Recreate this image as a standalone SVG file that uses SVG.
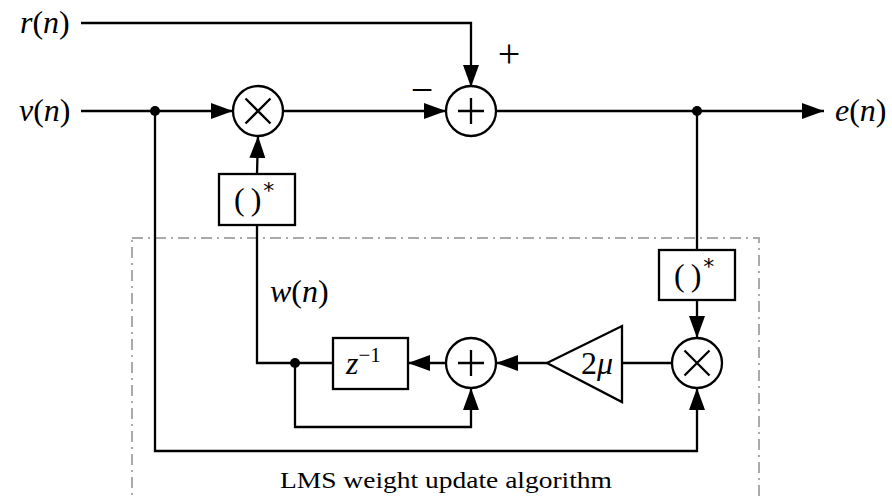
<svg xmlns="http://www.w3.org/2000/svg" width="892" height="500" viewBox="0 0 892 500">
  <defs>
    <marker id="arrow" viewBox="0 0 22 16" refX="22" refY="8" markerWidth="22" markerHeight="16" markerUnits="userSpaceOnUse" orient="auto">
      <path d="M0,0 L22,8 L0,16 Z" fill="#000"/>
    </marker>
    <style>
      .wire { fill: none; stroke: #000; stroke-width: 2.3; }
      .arr { marker-end: url(#arrow); }
      .node { fill: #fff; stroke: #000; stroke-width: 2.3; }
      .sym { stroke: #000; stroke-width: 2.3; fill: none; }
      .dot { fill: #000; }
      .math { font-family: "Liberation Serif", "DejaVu Serif", serif; font-size: 32px; fill: #000; }
      .it { font-style: italic; }
      .sign { font-family: "Liberation Serif", "DejaVu Serif", serif; font-size: 40px; fill: #000; }
      .star { font-family: "DejaVu Sans", sans-serif; font-size: 22px; }
      .cap { font-family: "Liberation Serif", "DejaVu Serif", serif; font-size: 23px; fill: #000; }
      .frame { fill: none; stroke: #aaaaaa; stroke-width: 2; stroke-dasharray: 11 5 2 5; }
    </style>
  </defs>

  <!-- update-algorithm frame -->
  <rect class="frame" x="132" y="238" width="627" height="280"/>
  <text class="cap" x="280" y="488" textLength="332" lengthAdjust="spacingAndGlyphs">LMS weight update algorithm</text>

  <!-- signal labels -->
  <text class="math" x="20" y="33"><tspan class="it">r</tspan>(<tspan class="it">n</tspan>)</text>
  <text class="math" x="19" y="121"><tspan class="it">v</tspan>(<tspan class="it">n</tspan>)</text>
  <text class="math" x="835" y="121"><tspan class="it">e</tspan>(<tspan class="it">n</tspan>)</text>
  <text class="math" x="270" y="302"><tspan class="it">w</tspan>(<tspan class="it">n</tspan>)</text>
  <text class="sign" x="422" y="103" text-anchor="middle">−</text>
  <text class="sign" x="509" y="67" text-anchor="middle">+</text>

  <g id="connectors">
    <polyline class="wire arr" points="81,23 471,23 471,87"/>
    <line class="wire arr" x1="81" y1="111" x2="233" y2="111"/>
    <line class="wire arr" x1="283" y1="111" x2="446" y2="111"/>
    <line class="wire arr" x1="496" y1="111" x2="824" y2="111"/>
    <line class="wire arr" x1="257" y1="174" x2="258" y2="136"/>
    <polyline class="wire" points="257,225 257,363 333,363"/>
    <line class="wire" x1="697" y1="111" x2="697" y2="250"/>
    <line class="wire arr" x1="697" y1="300" x2="697" y2="338"/>
    <line class="wire" x1="672" y1="363" x2="622" y2="363"/>
    <line class="wire arr" x1="547" y1="363" x2="496" y2="363"/>
    <line class="wire arr" x1="446" y1="363" x2="408" y2="363"/>
    <polyline class="wire arr" points="295,363 295,427 471,427 471,388"/>
    <polyline class="wire arr" points="155,111 155,451 697,451 697,388"/>
    <circle class="dot" cx="155" cy="111" r="5"/>
    <circle class="dot" cx="697" cy="111" r="5"/>
    <circle class="dot" cx="295" cy="363" r="5"/>
  </g>

  <g id="mult-top">
    <circle class="node" cx="258" cy="111" r="25"/>
    <path class="sym" d="M245.5,98.5 L270.5,123.5 M270.5,98.5 L245.5,123.5"/>
  </g>
  <g id="sum-top">
    <circle class="node" cx="471" cy="111" r="25"/>
    <path class="sym" d="M471,98 V124 M458,111 H484"/>
  </g>
  <g id="conj-left">
    <rect class="node" x="219" y="174" width="76" height="51"/>
    <text class="math" x="234" y="210">(<tspan dx="6">)</tspan><tspan class="star" dx="2" dy="-12">*</tspan></text>
  </g>
  <g id="conj-right">
    <rect class="node" x="659" y="250" width="76" height="50"/>
    <text class="math" x="674" y="286">(<tspan dx="6">)</tspan><tspan class="star" dx="2" dy="-12">*</tspan></text>
  </g>
  <g id="mult-bottom">
    <circle class="node" cx="697" cy="363" r="25"/>
    <path class="sym" d="M684.5,350.5 L709.5,375.5 M709.5,350.5 L684.5,375.5"/>
  </g>
  <g id="gain">
    <polygon class="node" points="547,363 622,326 622,402"/>
    <text class="math" x="581" y="374">2<tspan class="it">μ</tspan></text>
  </g>
  <g id="sum-bottom">
    <circle class="node" cx="471" cy="363" r="25"/>
    <path class="sym" d="M471,350 V376 M458,363 H484"/>
  </g>
  <g id="delay">
    <rect class="node" x="333" y="338" width="75" height="51"/>
    <text class="math" x="346" y="374"><tspan class="it">z</tspan><tspan font-size="21" dy="-12">−1</tspan></text>
  </g>
</svg>
